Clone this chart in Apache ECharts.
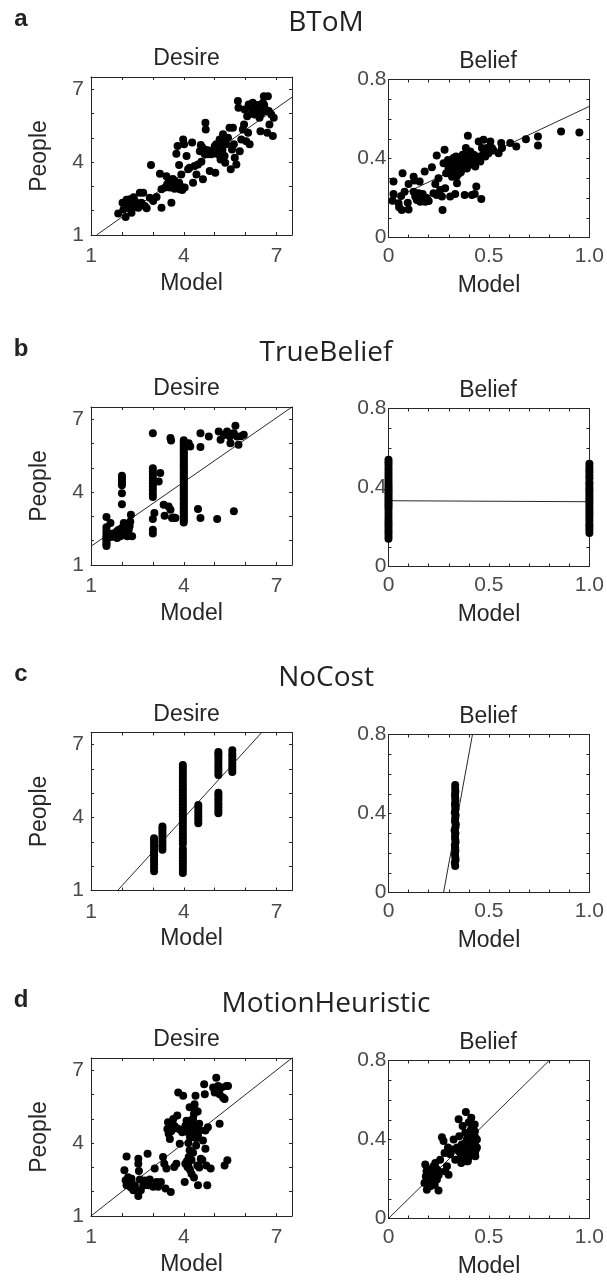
<!DOCTYPE html>
<html><head><meta charset="utf-8">
<script src="https://cdn.jsdelivr.net/npm/echarts@6/dist/echarts.min.js"></script>
<style>html,body{margin:0;padding:0;background:#fff}#c{width:607px;height:1281px}</style>
</head><body><div id="c"></div>
<script>
// ---------------- DATA ----------------
const modelNames = ['BToM', 'TrueBelief', 'NoCost', 'MotionHeuristic'];
const panelLetters = ['a', 'b', 'c', 'd'];
const panelNames = ['Desire', 'Belief'];
const xAxisTitle = 'Model';
const yAxisTitle = 'People';
const desireTicks = [1, 4, 7];
const desireTickLabels = ['1', '4', '7'];
const beliefXTicks = [0, 0.5, 1];
const beliefXTickLabels = ['0', '0.5', '1.0'];
const beliefYTicks = [0, 0.4, 0.8];
const beliefYTickLabels = ['0', '0.4', '0.8'];

const btomDesire = [
 [1.88,1.88],[2.02,2.33],[2.12,1.74],[2.17,2.12],[2.26,2.47],[2.29,2.23],[2.31,1.92],[2.42,2.40],[2.45,2.15],[2.53,2.12],
 [2.58,2.74],[2.63,2.33],[2.69,2.74],[2.74,2.19],[2.80,2.10],[2.90,2.53],[2.94,3.88],[3.01,2.40],[3.12,2.56],[3.23,3.52],
 [3.28,2.12],[3.28,2.88],[3.44,3.42],[3.46,3.08],[3.55,2.95],[3.60,2.33],[3.71,3.22],[3.76,4.34],[3.80,4.66],[3.82,3.08],
 [3.85,3.88],[3.87,2.88],[3.92,3.49],[3.98,4.93],[4.01,4.73],[4.03,2.95],[4.09,4.25],[4.14,3.70],[4.19,3.77],[4.27,4.81],
 [4.30,3.15],[4.35,3.84],[4.41,3.49],[4.46,3.90],[4.52,4.45],[4.55,4.70],[4.57,4.01],[4.62,3.29],[4.68,4.32],[4.70,5.62],
 [4.71,5.34],[4.78,4.32],[4.84,3.63],[4.89,4.32],[4.98,4.52],[5.02,3.56],[5.05,4.73],[5.11,4.32],[5.13,4.59],[5.16,4.93],
 [5.19,4.11],[5.24,4.64],[5.27,5.14],[5.32,4.25],[5.34,3.97],[5.37,4.73],[5.43,5.00],[5.48,5.41],[5.52,3.70],[5.56,4.52],
 [5.59,5.41],[5.62,4.73],[5.65,4.18],[5.70,3.90],[5.75,6.51],[5.77,6.23],[5.81,4.45],[5.86,4.93],[5.91,5.34],[5.95,5.55],
 [5.97,6.16],[6.02,4.86],[6.05,5.89],[6.08,5.21],[6.10,6.37],[6.13,4.73],[6.18,6.23],[6.23,6.44],[6.29,5.96],[6.34,6.30],
 [6.40,6.10],[6.45,5.82],[6.48,5.27],[6.56,6.44],[6.59,6.71],[6.61,6.23],[6.67,6.10],[6.70,5.21],[6.72,6.71],[6.77,5.55],
 [6.83,5.96],[6.88,5.07],[6.91,5.82],
 [2.05,2.05],[2.20,2.30],[2.35,2.20],[2.50,2.30],[2.15,2.45],[2.38,2.55],
 [3.60,3.00],[3.70,2.90],[3.75,3.10],[3.85,3.15],[3.90,3.00],[3.95,2.85],[3.65,3.30],[3.50,3.15],[3.40,2.95],
 [4.60,4.60],[4.75,4.50],[4.85,4.45],[4.95,4.35],[5.00,4.65],[5.10,4.45],[5.20,4.85],[5.25,4.50],[5.30,4.90],
 [6.20,6.00],[6.30,6.20],[6.50,6.00],[6.60,6.35],[6.40,6.35],[6.75,6.10]
];
const btomBelief = [
 [0.025,0.283],[0.025,0.220],[0.020,0.186],[0.050,0.173],[0.053,0.153],[0.063,0.210],[0.066,0.139],[0.070,0.325],[0.080,0.232],
 [0.096,0.176],[0.100,0.142],[0.100,0.271],[0.125,0.308],[0.125,0.232],[0.130,0.288],[0.133,0.207],[0.141,0.190],[0.150,0.224],
 [0.155,0.283],[0.158,0.181],[0.166,0.215],[0.180,0.203],[0.180,0.334],[0.183,0.181],[0.216,0.356],[0.224,0.224],[0.233,0.271],
 [0.240,0.415],[0.240,0.215],[0.249,0.300],[0.257,0.241],[0.266,0.207],[0.269,0.139],[0.274,0.376],[0.279,0.444],[0.282,0.249],
 [0.287,0.325],[0.296,0.393],[0.299,0.351],[0.307,0.207],[0.312,0.368],[0.316,0.308],[0.324,0.402],[0.329,0.342],[0.332,0.220],
 [0.336,0.410],[0.341,0.275],[0.346,0.368],[0.352,0.325],[0.357,0.385],[0.362,0.351],[0.369,0.419],[0.379,0.215],[0.382,0.410],
 [0.385,0.453],[0.390,0.376],[0.395,0.515],[0.399,0.402],[0.407,0.436],[0.415,0.215],[0.419,0.393],[0.424,0.419],[0.429,0.220],
 [0.432,0.359],[0.437,0.258],[0.440,0.410],[0.449,0.486],[0.457,0.385],[0.462,0.195],[0.465,0.453],[0.473,0.495],[0.482,0.410],
 [0.490,0.453],[0.498,0.427],[0.507,0.486],[0.515,0.453],[0.523,0.441],[0.548,0.427],[0.561,0.478],[0.565,0.453],[0.606,0.478],
 [0.636,0.461],[0.684,0.498],[0.744,0.512],[0.744,0.466],[0.859,0.537],[0.950,0.532],
 [0.31,0.37],[0.33,0.39],[0.35,0.36],[0.37,0.38],[0.39,0.35],[0.36,0.33],[0.34,0.31],[0.38,0.40],[0.41,0.37],[0.43,0.39],
 [0.45,0.40],[0.47,0.42],[0.35,0.40],[0.32,0.34],[0.40,0.42],[0.16,0.19],[0.17,0.22],[0.19,0.20],[0.20,0.185]
];
const trueBeliefDesire = [
 [1.5,1.78],[1.5,1.85],[1.5,1.93],[1.5,2.02],[1.5,2.10],[1.5,2.18],[1.5,2.30],[1.5,2.42],[1.5,2.55],[1.5,2.97],
 [1.63,2.73],[1.73,2.18],[1.79,2.32],[1.84,2.11],[1.90,2.45],[1.95,2.18],
 [2.0,4.67],[2.0,4.58],[2.0,4.48],[2.0,4.38],[2.0,4.28],[2.0,3.95],[2.0,3.50],[2.0,2.52],
 [2.06,2.73],[2.08,2.38],[2.11,2.62],[2.17,2.18],[2.22,2.45],[2.27,2.79],[2.29,3.07],[2.33,2.18],
 [1.60,2.20],[1.70,2.30],[1.80,2.20],[1.85,2.40],[1.95,2.35],[2.05,2.30],[2.15,2.50],[2.25,2.60],[1.65,2.15],[1.75,2.25],
 [3.0,4.98],[3.0,4.85],[3.0,4.72],[3.0,4.60],[3.0,4.48],[3.0,4.35],[3.0,4.22],[3.0,4.08],[3.0,3.92],[3.0,3.80],
 [3.0,6.42],[3.0,2.30],[3.0,2.45],[3.0,2.89],
 [3.05,3.14],[3.19,4.44],[3.24,4.78],[3.35,3.48],[3.38,3.03],[3.51,3.41],[3.57,6.22],[3.59,6.12],[3.57,3.27],[3.62,2.93],
 [3.73,2.93],[3.68,2.95],
 [4.0,2.75],[4.0,2.83],[4.0,2.92],[4.0,2.98],[4.0,3.07],[4.0,3.15],[4.0,3.21],[4.0,3.30],[4.0,3.37],[4.0,3.46],
 [4.0,3.53],[4.0,3.60],[4.0,3.69],[4.0,3.76],[4.0,3.84],[4.0,3.90],[4.0,3.99],[4.0,4.06],[4.0,4.14],[4.0,4.22],
 [4.0,4.29],[4.0,4.37],[4.0,4.45],[4.0,4.52],[4.0,4.60],[4.0,4.67],[4.0,4.76],[4.0,4.83],[4.0,4.91],[4.0,4.98],
 [4.0,5.06],[4.0,5.13],[4.0,5.21],[4.0,5.29],[4.0,5.36],[4.0,5.44],[4.0,5.52],[4.0,5.60],[4.0,5.67],[4.0,5.75],
 [4.0,5.83],[4.0,5.90],[4.0,5.97],[4.0,6.05],[4.0,6.13],
 [4.16,6.01],[4.21,5.88],[4.46,3.30],[4.54,2.93],[4.54,6.42],[4.54,5.85],[4.81,6.29],[5.08,2.89],[5.13,6.49],[5.19,6.15],
 [5.40,6.49],[5.49,6.29],[5.51,6.01],[5.62,3.21],[5.67,6.73],[5.72,6.29],[5.77,5.95],[5.94,6.36],[5.62,6.42],[5.30,6.35],
 [5.55,6.40],[5.85,6.30]
];
const trueBeliefBelief = [
 [0,0.140],[0,0.155],[0,0.170],[0,0.182],[0,0.196],[0,0.210],[0,0.222],[0,0.236],[0,0.251],[0,0.268],[0,0.286],
 [0,0.300],[0,0.311],[0,0.322],[0,0.334],[0,0.346],[0,0.357],[0,0.369],[0,0.380],[0,0.391],[0,0.402],[0,0.413],
 [0,0.426],[0,0.441],[0,0.456],[0,0.470],[0,0.486],[0,0.500],[0,0.515],[0,0.528],[0,0.541],
 [1,0.170],[1,0.186],[1,0.201],[1,0.214],[1,0.231],[1,0.246],[1,0.259],[1,0.275],[1,0.289],[1,0.301],[1,0.316],
 [1,0.331],[1,0.344],[1,0.358],[1,0.374],[1,0.386],[1,0.399],[1,0.414],[1,0.426],[1,0.447],[1,0.461],[1,0.476],
 [1,0.489],[1,0.504],[1,0.520]
];
const noCostDesire = [
 [3.04,1.79],[3.04,1.95],[3.04,2.08],[3.04,2.21],[3.04,2.32],[3.04,2.45],[3.04,2.56],[3.04,2.68],[3.04,2.81],[3.04,2.92],[3.04,3.05],[3.04,3.15],
 [3.31,2.68],[3.31,2.80],[3.31,2.93],[3.31,3.05],[3.31,3.18],[3.31,3.30],[3.31,3.42],[3.31,3.53],[3.31,3.63],
 [3.97,1.72],[3.97,1.85],[3.97,1.97],[3.97,2.10],[3.97,2.22],[3.97,2.35],[3.97,2.47],[3.97,2.60],[3.97,2.72],[3.97,2.92],
 [3.97,3.05],[3.97,3.17],[3.97,3.30],[3.97,3.42],[3.97,3.55],[3.97,3.67],[3.97,3.80],[3.97,3.92],[3.97,4.05],[3.97,4.17],
 [3.97,4.30],[3.97,4.42],[3.97,4.55],[3.97,4.67],[3.97,4.80],[3.97,4.92],[3.97,5.05],[3.97,5.17],[3.97,5.30],[3.97,5.42],
 [3.97,5.55],[3.97,5.67],[3.97,5.80],[3.97,5.92],[3.97,6.05],[3.97,6.16],
 [4.47,3.77],[4.47,3.90],[4.47,4.02],[4.47,4.15],[4.47,4.27],[4.47,4.40],[4.47,4.52],
 [5.12,4.18],[5.12,4.30],[5.12,4.42],[5.12,4.55],[5.12,4.68],[5.12,4.80],[5.12,4.92],[5.12,5.02],
 [5.12,5.75],[5.12,5.88],[5.12,6.00],[5.12,6.12],[5.12,6.25],[5.12,6.38],[5.12,6.50],[5.12,6.62],[5.12,6.70],
 [5.57,5.88],[5.57,6.00],[5.57,6.12],[5.57,6.25],[5.57,6.38],[5.57,6.50],[5.57,6.62],[5.57,6.77]
];
const noCostBelief = [
 [0.332,0.134],[0.330,0.151],[0.334,0.166],[0.332,0.181],[0.331,0.196],[0.333,0.211],[0.332,0.226],[0.330,0.241],
 [0.334,0.256],[0.332,0.270],[0.331,0.285],[0.333,0.300],[0.329,0.314],[0.333,0.330],[0.335,0.345],[0.331,0.360],
 [0.332,0.376],[0.334,0.391],[0.330,0.405],[0.333,0.420],[0.332,0.436],[0.331,0.450],[0.333,0.466],[0.332,0.481],
 [0.331,0.496],[0.333,0.511],[0.332,0.526],[0.332,0.544]
];
const motionDesire = [
 [2.15,3.45],[2.08,2.88],[2.12,2.47],[2.15,2.27],[2.20,2.59],[2.26,2.32],[2.29,2.17],[2.31,2.53],[2.37,2.06],[2.42,2.25],
 [2.53,3.36],[2.53,3.15],[2.55,2.85],[2.53,1.82],[2.58,2.50],[2.61,2.06],[2.69,2.25],[2.74,2.46],[2.83,3.56],[2.85,2.27],
 [2.90,2.50],[3.01,2.20],[3.06,2.95],[3.12,2.40],[3.17,2.20],[3.26,2.40],[3.33,3.43],[3.37,3.15],[3.41,2.13],[3.44,2.95],
 [3.47,4.58],[3.49,4.86],[3.51,4.38],[3.55,4.17],[3.58,1.99],[3.60,4.79],[3.66,4.99],[3.69,3.02],[3.76,3.15],[3.79,5.13],
 [3.82,6.08],[3.87,3.97],[3.90,4.54],[3.98,5.95],[4.03,2.40],[4.05,3.15],[4.09,4.92],[4.12,3.02],[4.14,4.45],[4.16,3.43],
 [4.19,5.47],[4.19,4.92],[4.19,3.70],[4.23,4.24],[4.25,2.74],[4.27,4.79],[4.30,4.38],[4.33,5.20],[4.33,2.58],[4.35,5.60],
 [4.38,5.95],[4.41,4.72],[4.44,3.08],[4.46,4.31],[4.46,2.27],[4.52,4.52],[4.55,3.36],[4.62,4.11],[4.66,6.42],[4.68,6.01],
 [4.70,4.52],[4.70,3.77],[4.73,3.08],[4.76,2.27],[4.78,4.65],[4.87,2.95],[4.95,6.29],[5.00,6.08],[5.05,6.69],[5.11,6.35],
 [5.16,6.01],[5.22,6.29],[5.27,5.88],[5.32,5.81],[5.38,6.35],[5.43,6.35],[5.16,4.79],[5.32,3.08],[5.41,3.29],
 [4.20,4.60],[4.25,4.90],[4.30,5.00],[4.35,4.55],[4.40,4.20],[4.15,4.00],[4.30,3.60],[4.25,3.30],[4.40,3.90],[4.50,4.80],
 [4.45,5.30],[4.35,5.40],[4.20,4.25],[4.10,4.60],[4.05,4.70],[3.95,4.45],[3.80,4.60],[3.70,4.70],[3.60,4.50],[4.50,3.00],
 [4.60,3.30],[4.20,2.90],[4.15,3.05],[4.10,3.25]
];
const motionBelief = [
 [0.183,0.273],[0.190,0.239],[0.186,0.214],[0.179,0.180],[0.191,0.146],[0.200,0.190],[0.208,0.163],[0.216,0.222],[0.224,0.264],
 [0.233,0.281],[0.233,0.247],[0.241,0.198],[0.249,0.142],[0.249,0.239],[0.257,0.298],[0.266,0.412],[0.274,0.392],[0.279,0.332],
 [0.282,0.239],[0.291,0.264],[0.296,0.359],[0.299,0.222],[0.307,0.325],[0.316,0.349],[0.324,0.400],[0.332,0.298],[0.341,0.359],
 [0.349,0.502],[0.352,0.417],[0.357,0.332],[0.362,0.281],[0.365,0.375],[0.369,0.468],[0.374,0.315],[0.379,0.349],[0.382,0.434],
 [0.385,0.539],[0.390,0.400],[0.395,0.290],[0.399,0.486],[0.402,0.366],[0.407,0.417],[0.412,0.510],[0.415,0.332],[0.419,0.444],
 [0.424,0.375],[0.429,0.476],[0.432,0.410],[0.435,0.349],[0.432,0.315],
 [0.37,0.30],[0.38,0.32],[0.39,0.29],[0.40,0.31],[0.41,0.33],[0.42,0.36],[0.43,0.38],[0.41,0.40],[0.40,0.37],[0.39,0.35],
 [0.38,0.38],[0.37,0.36],[0.42,0.42],[0.43,0.44],[0.41,0.45],[0.36,0.31],[0.35,0.34],[0.43,0.33],[0.44,0.40],[0.44,0.36],
 [0.19,0.20],[0.20,0.25],[0.21,0.23],[0.22,0.20],[0.23,0.17],[0.20,0.17],[0.19,0.24],[0.24,0.25],[0.25,0.22]
];
// fitted regression lines, as two end points [x, y]
const btomDesireFit = [[1.18,1.0],[7.5,6.67]];
const btomBeliefFit = [[0,0.185],[1.0,0.664]];
const trueBeliefDesireFit = [[1.0,1.77],[7.5,7.5]];
const trueBeliefBeliefFit = [[0,0.333],[1.0,0.328]];
const noCostDesireFit = [[1.86,1.0],[6.52,7.5]];
const noCostBeliefFit = [[0.274,0],[0.418,0.8]];
const motionDesireFit = [[1.0,1.0],[7.5,7.5]];
const motionBeliefFit = [[0,0],[0.8,0.8]];

// ---------------- CHART ----------------
const datasets = [[btomDesire, btomBelief],[trueBeliefDesire, trueBeliefBelief],[noCostDesire, noCostBelief],[motionDesire, motionBelief]];
const fits = [[btomDesireFit, btomBeliefFit],[trueBeliefDesireFit, trueBeliefBeliefFit],[noCostDesireFit, noCostBeliefFit],[motionDesireFit, motionBeliefFit]];

const fontMain = "'Open Sans', 'Noto Sans', sans-serif";
const fontAx = "'Liberation Sans', Arial, Helvetica, sans-serif";
const axisColor = '#262626';
const textColor = '#262626';
const labelColor = '#4a4a4a';

const rowTopsDesire = [77, 407, 732.5, 1058];
const rowTopsBelief = [79.5, 408.5, 734.5, 1060.5];
const plotH = 158, plotW = 201;
const desireLeft = 91, beliefLeft = 388.5;

function fmt(ticks, labels) {
  return function (v) {
    for (let i = 0; i < ticks.length; i++) if (Math.abs(v - ticks[i]) < 1e-6) return labels[i];
    return '';
  };
}

const grid = [], xAxis = [], yAxis = [], series = [], graphic = [];
for (let r = 0; r < 4; r++) {
  for (let c = 0; c < 2; c++) {
    const g = grid.length;
    const isD = c === 0;
    const top = isD ? rowTopsDesire[r] : rowTopsBelief[r];
    const left = isD ? desireLeft : beliefLeft;
    grid.push({left: left, top: top, width: plotW, height: plotH, containLabel: false});
    const xr = isD ? {min: 1, max: 7.5, interval: 1} : {min: 0, max: 1, interval: 0.1};
    const yr = isD ? {min: 1, max: 7.5, interval: 1} : {min: 0, max: 0.8, interval: 0.1};
    const common = {
      type: 'value', gridIndex: g, splitLine: {show: false},
      axisLine: {show: true, onZero: false, lineStyle: {color: axisColor, width: 1}},
      axisTick: {show: true, inside: true, length: 3, lineStyle: {color: axisColor, width: 1}}
    };
    const lblStyle = {color: labelColor, fontSize: 21, fontFamily: fontAx, showMinLabel: true, showMaxLabel: true};
    xAxis.push(Object.assign({}, common, xr, {
      position: 'bottom', name: xAxisTitle, nameLocation: 'middle', nameGap: 37,
      nameTextStyle: {color: textColor, fontSize: 23, fontFamily: fontAx},
      axisLabel: Object.assign({}, lblStyle, {margin: isD ? 11 : 8,
        formatter: isD ? fmt(desireTicks, desireTickLabels) : fmt(beliefXTicks, beliefXTickLabels)})
    }));
    xAxis.push(Object.assign({}, common, xr, {position: 'top', axisLabel: {show: false}}));
    yAxis.push(Object.assign({}, common, yr, {
      position: 'left',
      name: isD ? yAxisTitle : '', nameLocation: 'middle', nameGap: 40,
      nameTextStyle: {color: textColor, fontSize: 23, fontFamily: fontAx},
      axisLabel: Object.assign({}, lblStyle, {margin: isD ? 7 : 2,
        formatter: isD ? fmt(desireTicks, desireTickLabels) : fmt(beliefYTicks, beliefYTickLabels)})
    }));
    yAxis.push(Object.assign({}, common, yr, {position: 'right', axisLabel: {show: false}}));
    series.push({
      type: 'line', xAxisIndex: 2 * g, yAxisIndex: 2 * g, data: fits[r][c],
      showSymbol: false, symbol: 'none', clip: true, silent: true, z: 1,
      lineStyle: {color: '#111', width: 0.9}
    });
    series.push({
      type: 'scatter', xAxisIndex: 2 * g, yAxisIndex: 2 * g, data: datasets[r][c],
      symbol: 'circle', symbolSize: 8, clip: false, z: 2,
      itemStyle: {color: '#000', opacity: 1}
    });
    graphic.push({type: 'text', x: left + plotW / 2 - (isD ? 5 : 1), y: top - 18,
      style: {text: panelNames[c], fill: textColor, font: '23px ' + fontAx, textAlign: 'center', textVerticalAlign: 'middle'}});
  }
  graphic.push({type: 'text', x: 326, y: rowTopsDesire[r] - 54,
    style: {text: modelNames[r], fill: '#222', font: '28px ' + fontMain, textAlign: 'center', textVerticalAlign: 'middle'}});
  graphic.push({type: 'text', x: 21, y: rowTopsDesire[r] - 58,
    style: {text: panelLetters[r], fill: '#222', font: 'bold 24px ' + fontAx, textAlign: 'center', textVerticalAlign: 'middle'}});
}

const chart = echarts.init(document.getElementById('c'), null, {renderer: 'canvas', width: 607, height: 1281});
chart.setOption({
  backgroundColor: '#fff', animation: false,
  grid: grid, xAxis: xAxis, yAxis: yAxis, series: series, graphic: graphic
});
</script>
</body></html>
